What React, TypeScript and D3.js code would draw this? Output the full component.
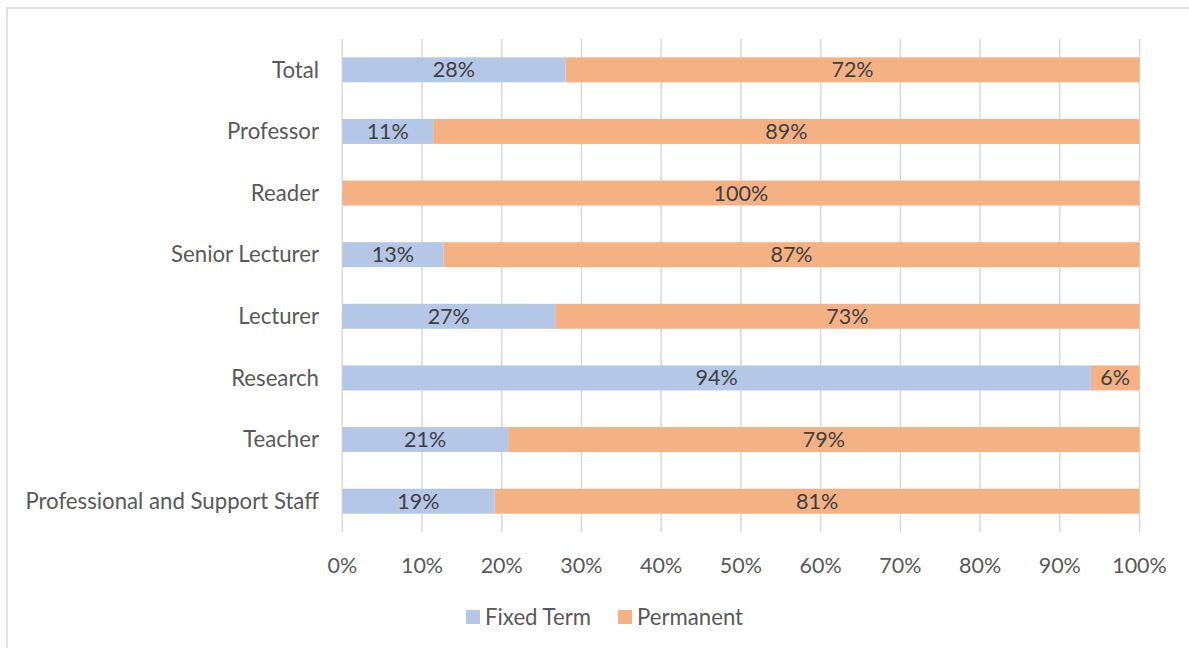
import React from "react";
import * as d3 from "d3";

const categories = [
  "Total",
  "Professor",
  "Reader",
  "Senior Lecturer",
  "Lecturer",
  "Research",
  "Teacher",
  "Professional and Support Staff",
];
const fixedTerm = [28.0, 11.4, 0, 12.7, 26.7, 93.9, 20.8, 19.1];
const permanent = [72.0, 88.6, 100, 87.3, 73.3, 6.1, 79.2, 80.9];
const seriesNames = ["Fixed Term", "Permanent"];
const seriesColors = ["#B4C7E7", "#F4B183"];
const xTicks = [0, 10, 20, 30, 40, 50, 60, 70, 80, 90, 100];

const W = 1189;
const H = 648;
const FONT = "Lato, 'Open Sans', sans-serif";

export default function App() {
  const x = d3.scaleLinear().domain([0, 100]).range([342.3, 1139.5]);
  const y = d3.scaleBand<string>().domain(categories).range([39, 532]).paddingInner(0.595).paddingOuter(0.2975);
  const fmt = (v: number) => d3.format(".0f")(v) + "%";
  const rows = categories.map((c, i) => ({ c, vals: [fixedTerm[i], permanent[i]] }));
  const stack = d3.stack<any>().keys(["0", "1"]).value((d: any, k: string) => d.vals[+k]);
  const series = stack(rows as any);
  const bw = y.bandwidth();

  return (
    <svg width={W} height={H} style={{ position: "absolute", left: 0, top: 0, background: "#fff" }} fontFamily={FONT}>
      <rect x={7} y={8} width={W + 20} height={H + 20} fill="#fff" stroke="#D9D9D9" strokeWidth={1.5} />
      {xTicks.map((t) => (
        <line key={"g" + t} x1={x(t)} x2={x(t)} y1={39} y2={532} stroke="#D9D9D9" strokeWidth={1.5} />
      ))}
      {series.map((s, si) =>
        s.map((d: any, i: number) => {
          const x0 = x(d[0]);
          const x1 = x(d[1]);
          const yy = y(categories[i]) as number;
          const v = rows[i].vals[si];
          return (
            <g key={si + "-" + i}>
              {v > 0 && <rect x={x0} y={yy} width={x1 - x0} height={bw} fill={seriesColors[si]} />}
              {v > 0 && (
                <text x={(x0 + x1) / 2} y={yy + bw / 2} dy="0.35em" textAnchor="middle" fontSize={21.5} fill="#404040">
                  {fmt(v)}
                </text>
              )}
            </g>
          );
        })
      )}
      {categories.map((c) => (
        <text key={c} x={319} y={(y(c) as number) + bw / 2} dy="0.35em" textAnchor="end" fontSize={22.2} fill="#595959">
          {c}
        </text>
      ))}
      {xTicks.map((t) => (
        <text key={"t" + t} x={x(t)} y={565} dy="0.35em" textAnchor="middle" fontSize={21.5} fill="#595959">
          {t + "%"}
        </text>
      ))}
      <g>
        <rect x={466} y={610} width={14} height={14} fill={seriesColors[0]} />
        <text x={485} y={617} dy="0.35em" fontSize={22.2} fill="#595959">{seriesNames[0]}</text>
        <rect x={618} y={610} width={14} height={14} fill={seriesColors[1]} />
        <text x={637} y={617} dy="0.35em" fontSize={22.2} fill="#595959">{seriesNames[1]}</text>
      </g>
    </svg>
  );
}
